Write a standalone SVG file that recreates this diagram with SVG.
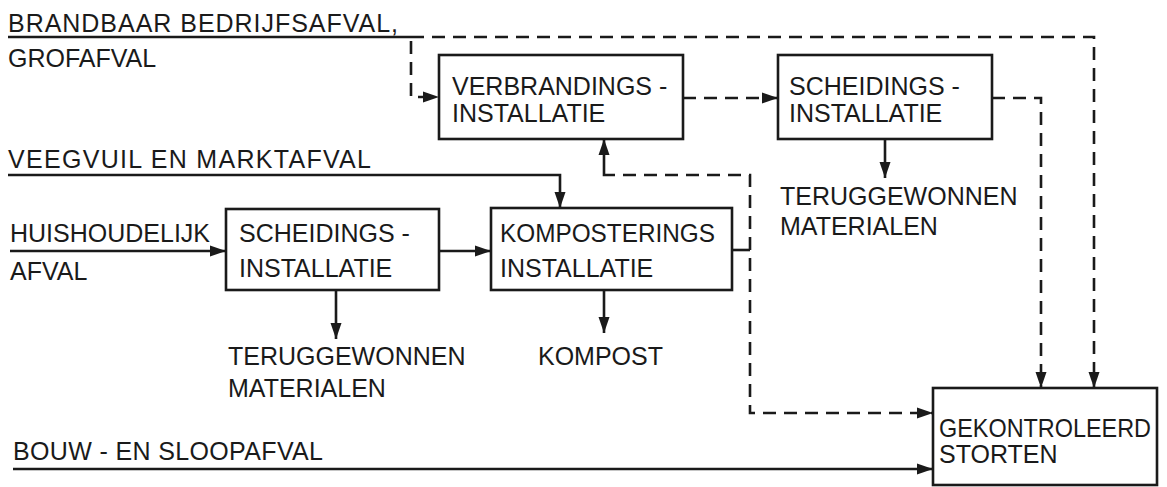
<svg xmlns="http://www.w3.org/2000/svg" width="1167" height="487" viewBox="0 0 1167 487">
<defs>
<style>
.t{font-family:"Liberation Sans",Arial,sans-serif;font-size:25px;fill:#1a1a1a}
.box{fill:none;stroke:#1a1a1a;stroke-width:2.6}
.s{fill:none;stroke:#1a1a1a;stroke-width:2.6}
.d{fill:none;stroke:#1a1a1a;stroke-width:2.6;stroke-dasharray:13 8}
</style>
<marker id="ah" markerUnits="userSpaceOnUse" markerWidth="18" markerHeight="14" refX="16" refY="7" orient="auto">
<path d="M0,1.5 L16,7 L0,12.5 Z" fill="#1a1a1a"/>
</marker>
</defs>
<rect width="1167" height="487" fill="#ffffff"/>
<g id="inputs">
<text class="t" x="8" y="32" textLength="390" lengthAdjust="spacing">BRANDBAAR BEDRIJFSAFVAL,</text>
<text class="t" x="8" y="67">GROFAFVAL</text>
<text class="t" x="8" y="168" textLength="363" lengthAdjust="spacing">VEEGVUIL EN MARKTAFVAL</text>
<text class="t" x="10" y="242">HUISHOUDELIJK</text>
<text class="t" x="10" y="280">AFVAL</text>
<text class="t" x="13" y="460" textLength="310" lengthAdjust="spacing">BOUW - EN SLOOPAFVAL</text>
</g>
<g id="verbranding">
<rect class="box" x="439" y="55" width="244" height="84"/>
<text class="t" x="452" y="95">VERBRANDINGS -</text>
<text class="t" x="452" y="122">INSTALLATIE</text>
</g>
<g id="scheiding-top">
<rect class="box" x="778" y="55" width="214" height="84"/>
<text class="t" x="789" y="95">SCHEIDINGS -</text>
<text class="t" x="789" y="122">INSTALLATIE</text>
</g>
<g id="materialen-top">
<text class="t" x="780" y="205">TERUGGEWONNEN</text>
<text class="t" x="780" y="235">MATERIALEN</text>
</g>
<g id="scheiding-low">
<rect class="box" x="226" y="209" width="213" height="81"/>
<text class="t" x="239" y="242">SCHEIDINGS -</text>
<text class="t" x="239" y="277">INSTALLATIE</text>
</g>
<g id="materialen-low">
<text class="t" x="228" y="365">TERUGGEWONNEN</text>
<text class="t" x="228" y="397">MATERIALEN</text>
</g>
<g id="kompostering">
<rect class="box" x="491" y="208" width="241" height="82"/>
<text class="t" x="500" y="242" textLength="215" lengthAdjust="spacingAndGlyphs">KOMPOSTERINGS</text>
<text class="t" x="500" y="277">INSTALLATIE</text>
</g>
<g id="kompost">
<text class="t" x="538" y="365">KOMPOST</text>
</g>
<g id="storten">
<rect class="box" x="933" y="388" width="224" height="97"/>
<text class="t" x="939" y="437" textLength="212" lengthAdjust="spacingAndGlyphs">GEKONTROLEERD</text>
<text class="t" x="939" y="463">STORTEN</text>
</g>
<g id="connectors">
<path class="s" d="M8,37 H411"/>
<path class="d" d="M411,37 H1094 V388" marker-end="url(#ah)"/>
<path class="d" d="M411,41 V97 H439" marker-end="url(#ah)"/>
<path class="s" d="M8,175 H560 V208" marker-end="url(#ah)"/>
<path class="s" d="M10,251 H226" marker-end="url(#ah)"/>
<path class="s" d="M439,251 H491" marker-end="url(#ah)"/>
<path class="s" d="M336,290 V339" marker-end="url(#ah)"/>
<path class="s" d="M604,290 V333" marker-end="url(#ah)"/>
<path class="d" d="M683,98 H778" marker-end="url(#ah)"/>
<path class="s" d="M885,139 V178" marker-end="url(#ah)"/>
<path class="d" d="M992,98 H1041 V388" marker-end="url(#ah)"/>
<path class="s" d="M732,250 H750"/>
<path class="d" d="M750,250 V175 H614"/>
<path class="s" d="M614,175 H604 V139" marker-end="url(#ah)"/>
<path class="d" d="M750,258 V413 H933" marker-end="url(#ah)"/>
<path class="s" d="M13,469 H933" marker-end="url(#ah)"/>
</g>
</svg>
